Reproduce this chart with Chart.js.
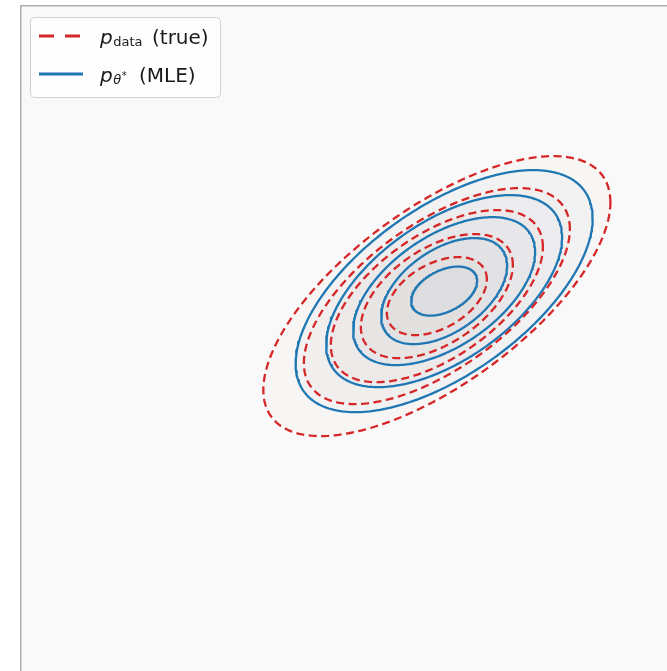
<!DOCTYPE html>
<html>
<head>
<meta charset="utf-8">
<script src="https://cdn.jsdelivr.net/npm/chart.js@4/dist/chart.umd.min.js"></script>
<style>
  html, body { margin: 0; padding: 0; background: #ffffff; }
  canvas { display: block; }
</style>
</head>
<body>
<canvas id="c" width="667" height="671"></canvas>
<script>
// Density contours, outermost first. Each ring: half-extent along x (sx),
// half-extent along y (sy) and the x-y correlation of its outline (rho).
const trueCenter = [1.15, 0.51];
const trueSx = [2.149, 1.647, 1.313, 0.941, 0.619];
const trueSy = [1.684, 1.299, 1.035, 0.746, 0.469];
const trueRho = [0.67, 0.62, 0.57, 0.50, 0.43];

const mleCenter = [1.24, 0.57];
const mleSx = [1.839, 1.461, 1.127, 0.780, 0.409];
const mleSy = [1.456, 1.155, 0.890, 0.638, 0.295];
const mleRho = [0.60, 0.56, 0.53, 0.48, 0.42];

// Legend entries: italic symbol, subscript, superscript, trailing text
const legendSymbols = ['p', 'p'];
const legendSubs = ['data', 'θ'];
const legendSups = ['', '*'];
const legendTexts = ['(true)', '(MLE)'];

const axisRange = [-4, 4];

const RED = '#d62728';
const BLUE = '#1f77b4';

// Closed outline of one contour ring
function ring(center, sx, sy, rho, n) {
  const k = Math.sqrt(1 - rho * rho);
  const pts = [];
  for (let i = 0; i <= n; i++) {
    const t = (i / n) * Math.PI * 2;
    const c = Math.cos(t), s = Math.sin(t);
    pts.push({ x: center[0] + sx * c, y: center[1] + sy * (rho * c + k * s) });
  }
  return pts;
}

const datasets = [];
trueSx.forEach((sx, i) => {
  datasets.push({
    label: 'true-' + i,
    data: ring(trueCenter, sx, trueSy[i], trueRho[i], 240),
    showLine: true,
    borderColor: RED,
    borderWidth: 2.3,
    borderDash: [8, 4.5],
    borderCapStyle: 'butt',
    backgroundColor: 'rgba(245,190,160,0.05)',
    fill: 'shape',
    pointRadius: 0,
    tension: 0
  });
});
mleSx.forEach((sx, i) => {
  datasets.push({
    label: 'mle-' + i,
    data: ring(mleCenter, sx, mleSy[i], mleRho[i], 240),
    showLine: true,
    borderColor: BLUE,
    borderWidth: 2.3,
    borderCapStyle: 'round',
    borderJoinStyle: 'round',
    backgroundColor: 'rgba(135,185,240,0.05)',
    fill: 'shape',
    pointRadius: 0,
    tension: 0
  });
});

// Plot-area background
const areaBackground = {
  id: 'areaBackground',
  beforeDraw(chart) {
    const { ctx, chartArea: a } = chart;
    ctx.save();
    ctx.fillStyle = '#f9f9f9';
    ctx.fillRect(a.left, a.top, a.right - a.left, a.bottom - a.top);
    ctx.restore();
  }
};

// Legend box with math-style labels
const mathLegend = {
  id: 'mathLegend',
  afterDraw(chart) {
    const ctx = chart.ctx;
    const bx = 30.5, by = 17.5, bw = 190, bh = 80, rad = 4;
    ctx.save();
    ctx.beginPath();
    ctx.moveTo(bx + rad, by);
    ctx.arcTo(bx + bw, by, bx + bw, by + bh, rad);
    ctx.arcTo(bx + bw, by + bh, bx, by + bh, rad);
    ctx.arcTo(bx, by + bh, bx, by, rad);
    ctx.arcTo(bx, by, bx + bw, by, rad);
    ctx.closePath();
    ctx.fillStyle = 'rgba(255,255,255,0.8)';
    ctx.fill();
    ctx.strokeStyle = '#d0d0d0';
    ctx.lineWidth = 1;
    ctx.stroke();

    const styles = [
      { color: RED, dash: [15, 11] },
      { color: BLUE, dash: [] }
    ];
    const baselines = [44, 82];
    const tailX = [152, 139];
    for (let i = 0; i < 2; i++) {
      const base = baselines[i];
      const ly = base - 8;
      ctx.beginPath();
      ctx.setLineDash(styles[i].dash);
      ctx.lineWidth = 3;
      ctx.strokeStyle = styles[i].color;
      ctx.lineCap = 'butt';
      ctx.moveTo(39, ly);
      ctx.lineTo(83, ly);
      ctx.stroke();
      ctx.setLineDash([]);

      ctx.fillStyle = '#1a1a1a';
      ctx.textBaseline = 'alphabetic';
      ctx.textAlign = 'left';
      ctx.font = 'italic 20px "DejaVu Sans"';
      let x = 100;
      ctx.fillText(legendSymbols[i], x, base);
      x += ctx.measureText(legendSymbols[i]).width + 0.5;
      const sub = legendSubs[i];
      ctx.font = (sub === 'data' ? '' : 'italic ') + '13px "DejaVu Sans"';
      ctx.fillText(sub, x, base + 1.5);
      x += ctx.measureText(sub).width + 0.5;
      if (legendSups[i]) {
        ctx.font = '10px "DejaVu Sans"';
        ctx.fillText(legendSups[i], x, base - 3);
      }
      ctx.font = '20px "DejaVu Sans"';
      ctx.fillText(legendTexts[i], tailX[i], base);
    }
    ctx.restore();
  }
};

new Chart(document.getElementById('c'), {
  type: 'scatter',
  data: { datasets },
  plugins: [areaBackground, mathLegend],
  options: {
    responsive: false,
    animation: false,
    events: [],
    layout: { padding: { left: 21, top: 6, right: 0, bottom: 0 } },
    scales: {
      x: {
        type: 'linear', position: 'top', min: axisRange[0], max: axisRange[1],
        ticks: { display: false },
        grid: { display: false, drawTicks: false },
        border: { display: true, color: '#adadad', width: 1.5 }
      },
      y: {
        type: 'linear', position: 'left', min: axisRange[0], max: axisRange[1],
        ticks: { display: false },
        grid: { display: false, drawTicks: false },
        border: { display: true, color: '#adadad', width: 1.5 }
      }
    },
    plugins: {
      legend: { display: false },
      tooltip: { enabled: false },
      filler: { drawTime: 'beforeDatasetsDraw' }
    },
    elements: { point: { radius: 0 } }
  }
});
</script>
</body>
</html>
